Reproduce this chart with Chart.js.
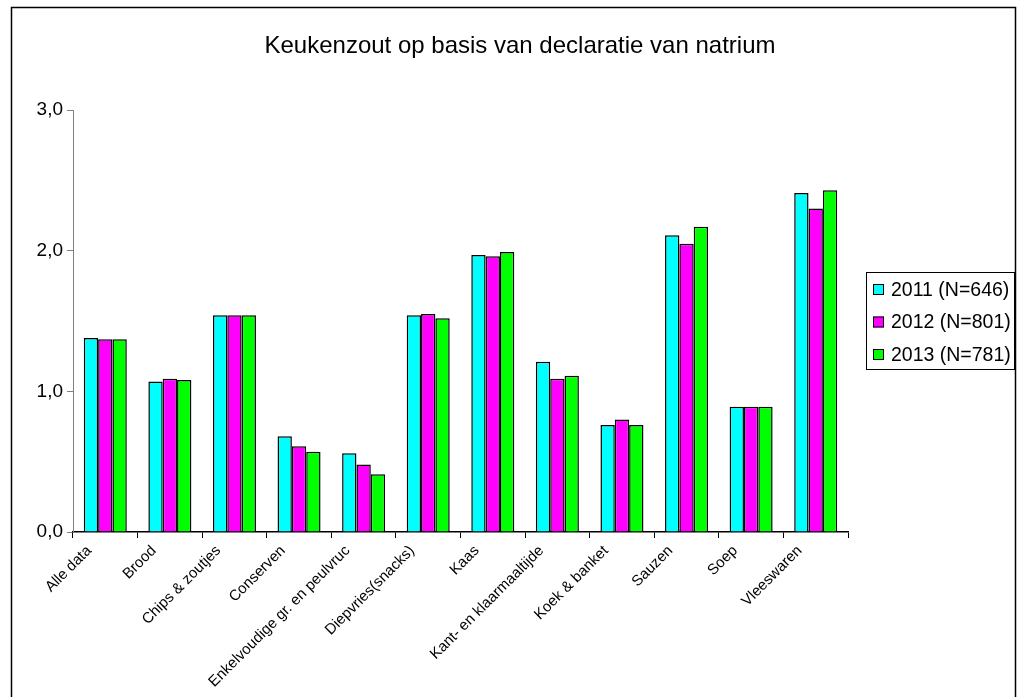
<!DOCTYPE html>
<html>
<head>
<meta charset="utf-8">
<script src="https://cdn.jsdelivr.net/npm/chart.js@4"></script>
<style>
  html, body { margin: 0; padding: 0; background: #fff; }
  #wrap { width: 1022px; height: 697px; }
</style>
</head>
<body>
<div id="wrap"><canvas id="c" width="1022" height="697"></canvas></div>
<script>
// Product groups along the x axis
const categories = [
  'Alle data', 'Brood', 'Chips & zoutjes', 'Conserven',
  'Enkelvoudige gr. en peulvruc', 'Diepvries(snacks)', 'Kaas',
  'Kant- en klaarmaaltijde', 'Koek & banket', 'Sauzen', 'Soep', 'Vleeswaren'
];

// Salt (g/100 g) per year
const salt2011 = [1.38, 1.07, 1.54, 0.68, 0.56, 1.54, 1.97, 1.21, 0.76, 2.11, 0.89, 2.41];
const salt2012 = [1.37, 1.09, 1.54, 0.61, 0.48, 1.55, 1.96, 1.09, 0.80, 2.05, 0.89, 2.30];
const salt2013 = [1.37, 1.08, 1.54, 0.57, 0.41, 1.52, 1.99, 1.11, 0.76, 2.17, 0.89, 2.43];

const seriesLabels = ['2011 (N=646)', '2012 (N=801)', '2013 (N=781)'];
const seriesColors = ['#00FFFF', '#FF00FF', '#00FF00'];
const yTicks = [0, 1, 2, 3];
const chartTitle = 'Keukenzout op basis van declaratie van natrium';

const FONT = '"Liberation Sans", Arial, sans-serif';

// Outer frame of the chart object (open at the bottom) and the title
const framePlugin = {
  id: 'frame',
  afterDraw(chart) {
    const ctx = chart.ctx;
    ctx.save();
    ctx.strokeStyle = '#000';
    ctx.lineWidth = 1.5;
    ctx.beginPath();
    ctx.moveTo(11.5, 697);
    ctx.lineTo(11.5, 7.5);
    ctx.lineTo(1015.5, 7.5);
    ctx.lineTo(1015.5, 697);
    ctx.stroke();
    ctx.fillStyle = '#000';
    ctx.font = '24px ' + FONT;
    ctx.textAlign = 'center';
    ctx.textBaseline = 'middle';
    ctx.fillText(chartTitle, 520, 46);
    ctx.restore();
  }
};

// Boxed legend on the right-hand side
const boxLegend = {
  id: 'boxLegend',
  afterDraw(chart) {
    const ctx = chart.ctx;
    const x0 = 866, y0 = 272, w = 148, h = 97;
    ctx.save();
    ctx.strokeStyle = '#000';
    ctx.lineWidth = 1;
    ctx.strokeRect(x0 + 0.5, y0 + 0.5, w, h);
    ctx.font = '19.5px ' + FONT;
    ctx.textBaseline = 'middle';
    ctx.textAlign = 'left';
    chart.data.datasets.forEach((ds, i) => {
      const cy = 289.5 + i * 32.5;
      ctx.fillStyle = ds.backgroundColor;
      ctx.fillRect(873, cy - 5.5, 11, 11);
      ctx.strokeStyle = '#000';
      ctx.strokeRect(873.5, cy - 5, 10, 10);
      ctx.fillStyle = '#000';
      ctx.fillText(ds.label, 891, cy + 1);
    });
    ctx.restore();
  }
};

new Chart(document.getElementById('c'), {
  type: 'bar',
  data: {
    labels: categories,
    datasets: [salt2011, salt2012, salt2013].map((vals, i) => ({
      label: seriesLabels[i],
      data: vals,
      backgroundColor: seriesColors[i],
      borderColor: '#000',
      borderWidth: 1.5,
      borderSkipped: 'bottom',
      barPercentage: 1.0,
      categoryPercentage: 0.666
    }))
  },
  options: {
    responsive: false,
    animation: false,
    layout: { padding: { left: 0, right: 174, top: 110, bottom: 0 } },
    plugins: {
      legend: { display: false },
      tooltip: { enabled: false },
      title: { display: false }
    },
    scales: {
      x: {
        afterFit(scale) { scale.height = 165; },
        grid: {
          offset: true,
          drawOnChartArea: false,
          drawTicks: true,
          tickLength: 6,
          color: '#000',
          lineWidth: 1
        },
        border: { display: true, color: '#000', width: 1.5 },
        ticks: {
          autoSkip: false,
          maxRotation: 45,
          minRotation: 45,
          labelOffset: -16,
          padding: 4,
          color: '#000',
          font: { family: FONT, size: 15 }
        }
      },
      y: {
        min: 0,
        max: 3,
        afterFit(scale) { scale.width = 73; },
        afterBuildTicks(scale) { scale.ticks = yTicks.map(v => ({ value: v })); },
        grid: {
          drawOnChartArea: false,
          drawTicks: true,
          tickLength: 6,
          color: '#808080'
        },
        border: { display: true, color: '#808080', width: 1 },
        ticks: {
          padding: 4,
          color: '#000',
          font: { family: FONT, size: 19 },
          callback: v => v.toFixed(1).replace('.', ',')
        }
      }
    }
  },
  plugins: [framePlugin, boxLegend]
});
</script>
</body>
</html>
